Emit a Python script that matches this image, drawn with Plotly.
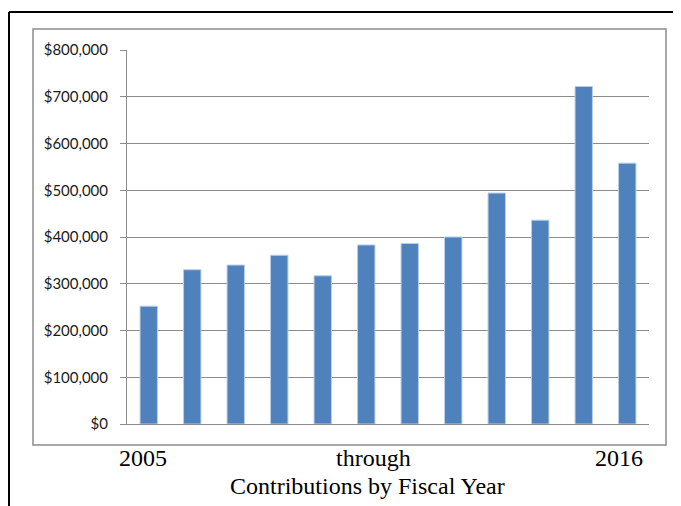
import plotly.graph_objects as go

years = ["2005", "2006", "2007", "2008", "2009", "2010", "2011", "2012", "2013", "2014", "2015", "2016"]
contributions = [252000, 330000, 340000, 361000, 317000, 383000, 386000, 400000, 494000, 436000, 722000, 558000]
bottom_labels = ["2005", "through", "2016"]
x_title = "Contributions by Fiscal Year"

OFF = 8  # page body margin
W, H = 681 - OFF, 506 - OFF
L, R, T, B = 127 - OFF, 649 - OFF, 50 - OFF, 424 - OFF  # plot area in figure pixels


def px(x):
    return ((x - OFF) - L) / (R - L)


def py(y):
    return (B - (y - OFF)) / (B - T)


fig = go.Figure(
    go.Bar(
        x=years,
        y=contributions,
        marker=dict(color="#4F81BD", line=dict(color="#B9CDE5", width=1)),
    )
)

shapes = [
    dict(type="rect", xref="paper", yref="paper",
         x0=px(33), x1=px(666), y0=py(445), y1=py(29),
         line=dict(color="#8C8C8C", width=1.5), fillcolor="rgba(0,0,0,0)", layer="below"),
    dict(type="line", xref="paper", yref="paper",
         x0=px(9), x1=px(681), y0=py(12), y1=py(12),
         line=dict(color="black", width=2)),
    dict(type="line", xref="paper", yref="paper",
         x0=px(9), x1=px(9), y0=py(12), y1=py(506),
         line=dict(color="black", width=2)),
]

label_x = [143, 373, 619]
annotations = []
for lab, lx in zip(bottom_labels, label_x):
    annotations.append(dict(
        text=lab, xref="paper", yref="paper", x=px(lx), y=py(458),
        showarrow=False, xanchor="center", yanchor="middle",
        font=dict(family="Liberation Serif", size=24, color="black"),
    ))
annotations.append(dict(
    text=x_title, xref="paper", yref="paper", x=px(367), y=py(486),
    showarrow=False, xanchor="center", yanchor="middle",
    font=dict(family="Liberation Serif", size=24, color="black"),
))

fig.update_layout(
    width=W, height=H,
    margin=dict(l=L, r=W - R, t=T, b=H - B, pad=0),
    paper_bgcolor="white", plot_bgcolor="white",
    showlegend=False,
    bargap=0.6,
    shapes=shapes,
    annotations=annotations,
    font=dict(family="Lato", size=15, color="#1a1a1a"),
)
fig.update_xaxes(
    showticklabels=False, ticks="", showgrid=False,
    showline=True, linecolor="#8C8C8C", linewidth=1,
    zeroline=False,
)
fig.update_yaxes(
    range=[0, 800000], dtick=100000, tickprefix="$", tickformat=",",
    showgrid=True, gridcolor="#8C8C8C", gridwidth=1,
    showline=True, linecolor="#8C8C8C", linewidth=1,
    ticks="outside", ticklen=6, tickcolor="#8C8C8C",
    ticklabelstandoff=9, zeroline=False,
)

fig.write_html("out.html")
